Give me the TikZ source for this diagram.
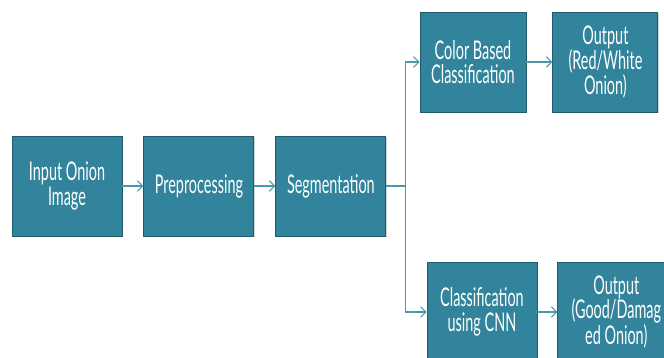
\documentclass[tikz,border=0pt]{standalone}
\usepackage{fontspec}
\newfontfamily\boxfont{Lato}[FakeStretch=0.56]
\usetikzlibrary{arrows.meta,positioning,shadows}
\definecolor{OnTeal}{HTML}{31849B}
\definecolor{OnEdge}{HTML}{1F5C6B}
\definecolor{OnLink}{HTML}{4A9BAA}
\tikzset{
  stagebox/.style={draw=OnEdge, line width=0.8pt, fill=OnTeal, text=white,
                   minimum width=3.3cm, minimum height=3.0cm, inner sep=1pt,
                   align=center, font=\boxfont\fontsize{22}{21}\selectfont,
                   drop shadow={shadow xshift=0.6pt, shadow yshift=-1pt, opacity=0.35}},
  flowarrow/.style={draw=OnLink, line width=0.9pt,
                    -{Straight Barb[length=1.6mm,width=3.2mm]}},
}
\begin{document}
\begin{tikzpicture}
  \clip (0,0) rectangle (19.92,-10.74);
  % main line
  \node[stagebox] (inp) at (2.01,-5.58) {Input Onion\\Image};
  \node[stagebox, right=0.63cm of inp] (pre) {Preprocessing};
  \node[stagebox, right=0.63cm of pre] (seg) {Segmentation};
  % upper branch
  \node[stagebox, minimum width=3.18cm] (col) at (14.19,-1.86) {Color Based\\Classification};
  \node[stagebox, minimum width=3.15cm, right=0.78cm of col] (outA) {Output\\(Red/White\\Onion)};
  % lower branch
  \node[stagebox] (cnn) at (14.46,-9.36) {Classification\\using CNN};
  \node[stagebox, minimum width=3.5cm, right=0.6cm of cnn] (outB) {Output\\(Good/Damag\\ed Onion)};
  \coordinate[right=0.57cm of seg.east] (fork);
  \draw[flowarrow] (inp) -- (pre);
  \draw[flowarrow] (pre) -- (seg);
  \draw[OnLink, line width=0.9pt] (seg.east) -- (fork);
  \draw[flowarrow] (fork) |- (col.west);
  \draw[flowarrow] (fork) |- (cnn.west);
  \draw[flowarrow] (col) -- (outA);
  \draw[flowarrow] (cnn) -- (outB);
\end{tikzpicture}
\end{document}
